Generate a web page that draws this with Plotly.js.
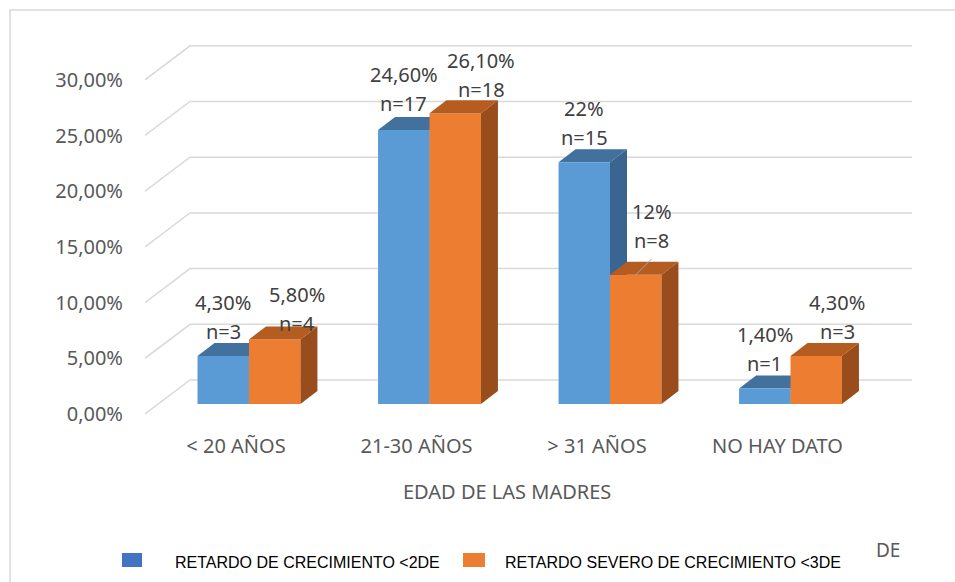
<!DOCTYPE html>
<html>
<head>
<meta charset="utf-8">
<script src="https://cdn.plot.ly/plotly-3.0.1.min.js"></script>
<style>html,body{margin:0;padding:0;background:#fff;}#chart{width:955px;height:582px;}</style>
</head>
<body>
<div id="chart"></div>
<script>
// ---- data ----
const categories = ["< 20 AÑOS", "21-30 AÑOS", "> 31 AÑOS", "NO HAY DATO"];
const moderate = [4.3, 24.6, 21.7, 1.4];      // RETARDO DE CRECIMIENTO <2DE (%)
const severe = [5.8, 26.1, 11.6, 4.3];        // RETARDO SEVERO DE CRECIMIENTO <3DE (%)
const moderateLabels = ["4,30%", "24,60%", "22%", "1,40%"];
const severeLabels = ["5,80%", "26,10%", "12%", "4,30%"];
const moderateN = [3, 17, 15, 1];
const severeN = [4, 18, 8, 3];
const gridVals = [0, 5, 10, 15, 20, 25, 30];
const seriesNames = ["RETARDO DE CRECIMIENTO <2DE", "RETARDO SEVERO DE CRECIMIENTO <3DE"];
const xTitle = "EDAD DE LAS MADRES";

// ---- geometry / style ----
const W = 955, H = 582;
const M = {l: 145, r: 43, t: 40, b: 162};
const plotW = W - M.l - M.r, plotH = H - M.t - M.b;
const xRange = [-0.504, 3.745];
const yRange = [-1.436, 32.675];
const pxPerX = plotW / (xRange[1] - xRange[0]);
const pxPerY = plotH / (yRange[1] - yRange[0]);
const barW = 0.285, blueOff = -0.213, orangeOff = 0.072;
const dDX = 17 / pxPerX, dDY = 13 / pxPerY;          // bar depth
const frontOff = -10 / pxPerY;                        // front plane offset
const backDX = 45 / pxPerX, backDY = 34 / pxPerY;     // wall depth
const frontX = xRange[0];
const backRight = xRange[1];
const gridColor = "#D9D9D9";
const col = {
  blueFront: "#5B9BD5", blueTop: "#41719C", blueSide: "#3A6590",
  orFront: "#ED7D31", orTop: "#B55D21", orSide: "#9A4D1C"
};
const pxX = p => (p - M.l) / plotW;
const pxY = p => (M.t + plotH - p) / plotH;
const fmtPct = g => g.toFixed(2).replace(".", ",") + "%";

const xs = categories.map((c, i) => i);

const traces = [
  {type: "bar", x: xs, y: moderate, offset: blueOff, width: barW, name: seriesNames[0],
   marker: {color: col.blueFront, line: {width: 0}}, showlegend: false, hoverinfo: "none"},
  {type: "bar", x: xs, y: severe, offset: orangeOff, width: barW, name: seriesNames[1],
   marker: {color: col.orFront, line: {width: 0}}, showlegend: false, hoverinfo: "none"}
];

const shapes = [];
// outer frame
shapes.push({type: "rect", xref: "paper", yref: "paper", x0: pxX(10), y0: pxY(10), x1: pxX(975), y1: pxY(600),
  line: {color: gridColor, width: 1.5}, layer: "below"});
// wall gridlines
gridVals.forEach(g => {
  const yf = g + frontOff, yb = yf + backDY;
  shapes.push({type: "path", xref: "x", yref: "y", layer: "below",
    path: `M ${frontX},${yf} L ${frontX + backDX},${yb} L ${backRight},${yb}`,
    line: {color: gridColor, width: 1.5}});
});
function faces(i, v, off, top, side, layer) {
  const xl = i + off, xr = xl + barW;
  shapes.push({type: "path", xref: "x", yref: "y", layer: layer, line: {width: 0}, fillcolor: top,
    path: `M ${xl},${v} L ${xr},${v} L ${xr + dDX},${v + dDY} L ${xl + dDX},${v + dDY} Z`});
  shapes.push({type: "path", xref: "x", yref: "y", layer: layer, line: {width: 0}, fillcolor: side,
    path: `M ${xr},0 L ${xr},${v} L ${xr + dDX},${v + dDY} L ${xr + dDX},${dDY} Z`});
}
moderate.forEach((v, i) => faces(i, v, blueOff, col.blueTop, col.blueSide, "below"));
severe.forEach((v, i) => faces(i, v, orangeOff, col.orTop, col.orSide, "above"));

// data labels
const labFont = {family: "Noto Sans, sans-serif", size: 20, color: "#404040"};
const annotations = [];
const blueShiftX = [0, 0, 0, 0], blueShiftY = [25, 26, 25, 25];
const orShiftX = [22, 26, 16, 21], orShiftY = [16, 24, 34, 25];
moderate.forEach((v, i) => {
  const xc = i + blueOff + barW / 2;
  annotations.push({x: xc, y: v, xref: "x", yref: "y", text: "n=" + moderateN[i], showarrow: false,
    xshift: blueShiftX[i], yshift: blueShiftY[i], font: labFont});
  annotations.push({x: xc, y: v, xref: "x", yref: "y", text: moderateLabels[i], showarrow: false,
    xshift: blueShiftX[i], yshift: blueShiftY[i] + 29, font: labFont});
});
severe.forEach((v, i) => {
  const xc = i + orangeOff + barW / 2;
  annotations.push({x: xc, y: v, xref: "x", yref: "y", text: "n=" + severeN[i], showarrow: false,
    xshift: orShiftX[i], yshift: orShiftY[i], font: labFont});
  annotations.push({x: xc, y: v, xref: "x", yref: "y", text: severeLabels[i], showarrow: false,
    xshift: orShiftX[i], yshift: orShiftY[i] + 29, font: labFont});
});
// leader line for the 12% label
{
  const xc = 2 + orangeOff + barW / 2, v = severe[2];
  shapes.push({type: "line", xref: "x", yref: "y", layer: "above", x0: xc, y0: v,
    x1: xc + 16 / pxPerX, y1: v + 16 / pxPerY, line: {color: "#A6A6A6", width: 1}});
}
// x axis title
annotations.push({xref: "paper", yref: "paper", x: pxX(507), y: pxY(492), text: xTitle, showarrow: false,
  xanchor: "center", yanchor: "middle", font: {family: "Noto Sans, sans-serif", size: 20, color: "#595959"}});
// legend
const legFont = {family: "Liberation Sans, Arial, sans-serif", size: 16, color: "#000000"};
shapes.push({type: "rect", xref: "paper", yref: "paper", x0: pxX(122), x1: pxX(142), y0: pxY(553), y1: pxY(567),
  fillcolor: "#4472C4", line: {width: 0}});
shapes.push({type: "rect", xref: "paper", yref: "paper", x0: pxX(463), x1: pxX(485), y0: pxY(553), y1: pxY(567),
  fillcolor: col.orFront, line: {width: 0}});
annotations.push({xref: "paper", yref: "paper", x: pxX(173), y: pxY(562), text: seriesNames[0], showarrow: false,
  xanchor: "left", yanchor: "middle", font: legFont});
annotations.push({xref: "paper", yref: "paper", x: pxX(503), y: pxY(562), text: seriesNames[1], showarrow: false,
  xanchor: "left", yanchor: "middle", font: legFont});
// partially hidden fragment at right of legend
annotations.push({xref: "paper", yref: "paper", x: pxX(902), y: pxY(550), text: "DE", showarrow: false,
  xanchor: "right", yanchor: "middle", font: {family: "Noto Sans, sans-serif", size: 19, color: "#595959"}});
shapes.push({type: "rect", xref: "paper", yref: "paper", x0: pxX(860), x1: pxX(884), y0: pxY(536), y1: pxY(566),
  fillcolor: "#ffffff", line: {width: 0}, layer: "above"});

const layout = {
  width: W, height: H, autosize: false,
  margin: M,
  paper_bgcolor: "#ffffff", plot_bgcolor: "rgba(0,0,0,0)",
  barmode: "overlay",
  showlegend: false,
  xaxis: {range: xRange, tickvals: xs, ticktext: categories, showgrid: false, zeroline: false,
    showline: false, ticks: "outside", ticklen: 8, tickcolor: "rgba(0,0,0,0)",
    tickfont: {family: "Noto Sans, sans-serif", size: 20, color: "#595959"}, fixedrange: true},
  yaxis: {range: yRange, tickvals: gridVals.map(g => g + frontOff), ticktext: gridVals.map(fmtPct),
    showgrid: false, zeroline: false, showline: false, ticks: "outside", ticklen: 17,
    tickcolor: "rgba(0,0,0,0)",
    tickfont: {family: "Noto Sans, sans-serif", size: 20, color: "#595959"}, fixedrange: true},
  shapes: shapes,
  annotations: annotations
};

Plotly.newPlot("chart", traces, layout, {displayModeBar: false, staticPlot: true});
</script>
</body>
</html>
